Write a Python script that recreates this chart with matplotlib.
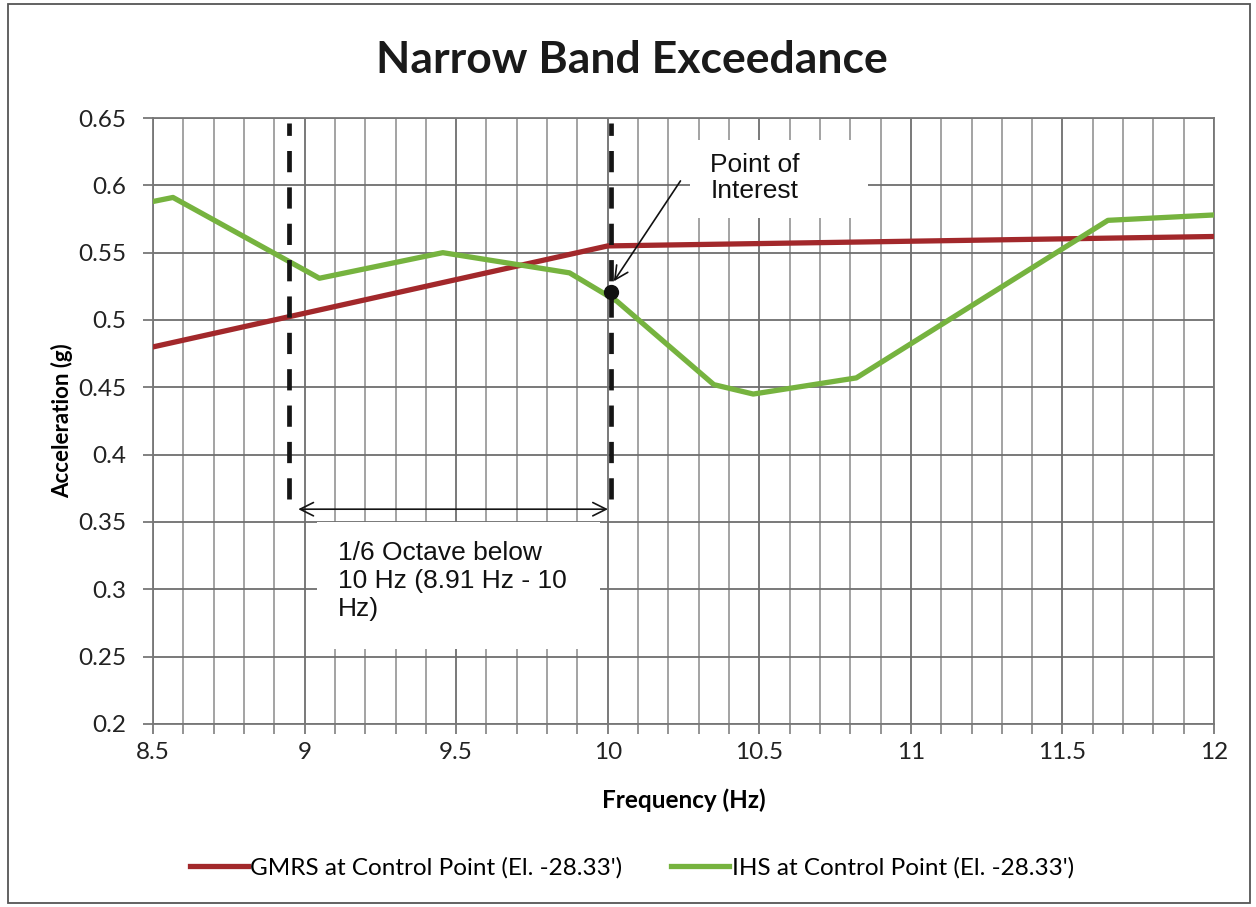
import matplotlib.pyplot as plt
from matplotlib.patches import Rectangle
from matplotlib.ticker import MultipleLocator

# GMRS at control point
gmrs_f = [8.5, 10.0, 12.0]
gmrs_a = [0.480, 0.555, 0.562]

# IHS at control point
ihs_f = [8.5, 8.566, 9.049, 9.456, 9.874, 10.03, 10.35, 10.48, 10.82, 11.65, 12.0]
ihs_a = [0.588, 0.591, 0.531, 0.550, 0.535, 0.514, 0.452, 0.445, 0.457, 0.574, 0.578]

poi_f, poi_a = 10.01, 0.521
band_lo, band_hi = 8.95, 10.01

title = 'Narrow Band Exceedance'
xlab = 'Frequency (Hz)'
ylab = 'Acceleration (g)'
lab_gmrs = "GMRS at Control Point (El. -28.33')"
lab_ihs = "IHS at Control Point (El. -28.33')"

red = '#A2282B'
green = '#76B33F'
gridc = '#8a8a8a'
ui = 'Lato'
arial = 'Liberation Sans'

fig = plt.figure(figsize=(12.56, 9.07), dpi=100)
ax = fig.add_axes([0.1218, 0.2018, 0.8448, 0.6681])

ax.plot(gmrs_f, gmrs_a, color=red, lw=3.8, label=lab_gmrs, zorder=4,
        solid_joinstyle='round')
ax.plot(ihs_f, ihs_a, color=green, lw=3.8, label=lab_ihs, zorder=4,
        solid_joinstyle='round')

ax.set_xlim(8.5, 12)
ax.set_ylim(0.2, 0.65)
ax.xaxis.set_major_locator(MultipleLocator(0.5))
ax.xaxis.set_minor_locator(MultipleLocator(0.1))
ax.yaxis.set_major_locator(MultipleLocator(0.05))
ax.xaxis.set_major_formatter(plt.FuncFormatter(lambda v, p: f'{v:g}'))
ax.yaxis.set_major_formatter(plt.FuncFormatter(lambda v, p: f'{v:g}'))

ax.grid(which='major', axis='both', color='#6e6e6e', lw=1.3)
ax.grid(which='minor', axis='x', color=gridc, lw=1.1)
ax.set_axisbelow(True)
for s in ax.spines.values():
    s.set_color('#777777')
    s.set_linewidth(1.3)
ax.tick_params(which='major', direction='out', length=7, width=1.3, color='#777777',
               labelsize=17.5)
ax.tick_params(axis='y', pad=12)
ax.tick_params(axis='x', pad=6)
ax.tick_params(which='minor', axis='x', direction='out', length=7, width=1.1, color='#777777')
for t in ax.get_xticklabels() + ax.get_yticklabels():
    t.set_fontfamily(ui)
    t.set_color('#222222')

ax.set_xlabel(xlab, fontsize=17.5, fontweight='bold', family=ui, labelpad=18)
ax.set_ylabel(ylab, fontsize=16, fontweight='bold', family=ui, labelpad=4)
fig.text(0.503, 0.934, title, ha='center', va='center', fontsize=32,
         fontweight='bold', family=ui, color='#1a1a1a')

# white text boxes hiding the grid
ax.add_patch(Rectangle((9.041, 0.256), 0.934, 0.094, facecolor='white',
                       edgecolor='none', zorder=2))
ax.add_patch(Rectangle((10.27, 0.5757), 0.59, 0.058, facecolor='white',
                       edgecolor='none', zorder=2))

# 1/6 octave band markers
for f in (band_lo, band_hi):
    ax.plot([f, f], [0.367, 0.646], color='#151515', lw=3.4,
            dashes=(4.5, 3.2), zorder=5)
ax.annotate('', xy=(band_lo + 0.02, 0.3595), xytext=(band_hi, 0.3595),
            arrowprops=dict(arrowstyle='<->', color='#151515', lw=1.2,
                            mutation_scale=24), zorder=6)
ax.text(9.11, 0.306, '1/6 Octave below\n10 Hz (8.91 Hz - 10\nHz)', fontsize=19,
        family=arial, color='#111111', ha='left', va='center', linespacing=1.2,
        zorder=6)

# point of interest
ax.plot([poi_f], [poi_a], 'o', color='#111111', ms=10, zorder=7)
ax.annotate('', xy=(poi_f + 0.005, poi_a + 0.006), xytext=(10.245, 0.605),
            arrowprops=dict(arrowstyle='->', color='#111111', lw=1.2,
                            mutation_scale=24), zorder=7)
ax.text(10.338, 0.6054, 'Point of\nInterest', fontsize=19, family=arial,
        color='#111111', ha='left', va='center', linespacing=1.15, zorder=6)

leg = fig.legend(loc='center', bbox_to_anchor=(0.503, 0.043), ncol=2, frameon=False,
                 prop=dict(family=ui, size=17.5), handlelength=2.4, handletextpad=0.1,
                 columnspacing=2.0)

fig.patches.append(Rectangle((0.006, 0.004), 0.989, 0.992, transform=fig.transFigure,
                             fill=False, edgecolor='#555555', lw=1.3))

fig.savefig('out.png', dpi=100, facecolor='white')
